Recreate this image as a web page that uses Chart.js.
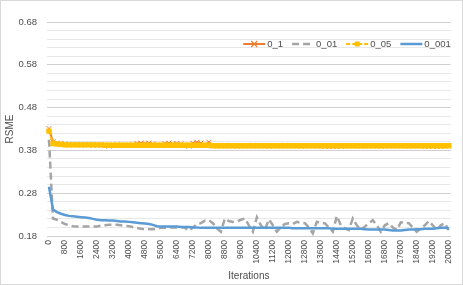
<!DOCTYPE html>
<html>
<head>
<meta charset="utf-8">
<script src="https://cdn.jsdelivr.net/npm/chart.js@4.4.1/dist/chart.umd.min.js"></script>
<style>
  html, body { margin: 0; padding: 0; background: #fff; }
  #wrap { width: 463px; height: 285px; position: relative; }
</style>
</head>
<body>
<div id="wrap"><canvas id="rsmeChart"></canvas></div>
<script>
// iterations (x categories), every 200
const iterations = [
  0, 200, 400, 600, 800, 1000, 1200, 1400, 1600, 1800,
  2000, 2200, 2400, 2600, 2800, 3000, 3200, 3400, 3600, 3800,
  4000, 4200, 4400, 4600, 4800, 5000, 5200, 5400, 5600, 5800,
  6000, 6200, 6400, 6600, 6800, 7000, 7200, 7400, 7600, 7800,
  8000, 8200, 8400, 8600, 8800, 9000, 9200, 9400, 9600, 9800,
  10000, 10200, 10400, 10600, 10800, 11000, 11200, 11400, 11600, 11800,
  12000, 12200, 12400, 12600, 12800, 13000, 13200, 13400, 13600, 13800,
  14000, 14200, 14400, 14600, 14800, 15000, 15200, 15400, 15600, 15800,
  16000, 16200, 16400, 16600, 16800, 17000, 17200, 17400, 17600, 17800,
  18000, 18200, 18400, 18600, 18800, 19000, 19200, 19400, 19600, 19800,
  20000
];

const seriesNames = ['0_1', '0_01', '0_05', '0_001'];

// 0_1
const rsme0_1 = [
  0.431, 0.400, 0.397, 0.396, 0.395, 0.394, 0.394, 0.394, 0.393, 0.394,
  0.393, 0.393, 0.392, 0.393, 0.392, 0.390, 0.392, 0.393, 0.392, 0.392,
  0.392, 0.393, 0.396, 0.397, 0.396, 0.397, 0.395, 0.392, 0.391, 0.396,
  0.397, 0.395, 0.396, 0.395, 0.392, 0.390, 0.397, 0.399, 0.397, 0.392,
  0.399, 0.391, 0.391, 0.391, 0.392, 0.391, 0.391, 0.390, 0.391, 0.391,
  0.391, 0.392, 0.391, 0.391, 0.391, 0.390, 0.391, 0.391, 0.391, 0.392,
  0.391, 0.391, 0.391, 0.390, 0.391, 0.391, 0.391, 0.391, 0.391, 0.390,
  0.389, 0.389, 0.389, 0.390, 0.391, 0.391, 0.391, 0.391, 0.390, 0.391,
  0.391, 0.391, 0.391, 0.390, 0.391, 0.391, 0.391, 0.391, 0.391, 0.391,
  0.390, 0.391, 0.391, 0.391, 0.389, 0.389, 0.390, 0.389, 0.389, 0.391,
  0.391
];

// 0_01
const rsme0_01 = [
  0.405, 0.221, 0.218, 0.213, 0.208, 0.205, 0.203, 0.202, 0.202, 0.202,
  0.202, 0.202, 0.202, 0.204, 0.205, 0.206, 0.206, 0.206, 0.205, 0.204,
  0.203, 0.201, 0.199, 0.197, 0.196, 0.196, 0.196, 0.197, 0.199, 0.199,
  0.200, 0.200, 0.200, 0.201, 0.199, 0.192, 0.200, 0.208, 0.210, 0.216,
  0.217, 0.210, 0.198, 0.190, 0.221, 0.215, 0.213, 0.214, 0.218, 0.221,
  0.205, 0.190, 0.224, 0.205, 0.194, 0.219, 0.205, 0.190, 0.200, 0.208,
  0.210, 0.208, 0.213, 0.211, 0.210, 0.200, 0.186, 0.213, 0.210, 0.210,
  0.200, 0.190, 0.227, 0.205, 0.198, 0.194, 0.221, 0.205, 0.194, 0.202,
  0.210, 0.217, 0.205, 0.190, 0.205, 0.210, 0.200, 0.194, 0.212, 0.211,
  0.210, 0.200, 0.190, 0.198, 0.205, 0.215, 0.205, 0.194, 0.205, 0.210,
  0.194
];

// 0_05
const rsme0_05 = [
  0.425, 0.396, 0.395, 0.394, 0.393, 0.393, 0.393, 0.393, 0.393, 0.393,
  0.393, 0.393, 0.393, 0.393, 0.392, 0.392, 0.392, 0.392, 0.392, 0.392,
  0.392, 0.392, 0.392, 0.392, 0.392, 0.392, 0.392, 0.392, 0.392, 0.392,
  0.392, 0.392, 0.392, 0.392, 0.392, 0.392, 0.392, 0.392, 0.392, 0.392,
  0.392, 0.391, 0.391, 0.391, 0.391, 0.391, 0.391, 0.391, 0.391, 0.391,
  0.391, 0.391, 0.391, 0.391, 0.391, 0.391, 0.391, 0.391, 0.391, 0.391,
  0.391, 0.391, 0.391, 0.391, 0.391, 0.391, 0.391, 0.391, 0.391, 0.391,
  0.391, 0.391, 0.391, 0.391, 0.391, 0.391, 0.391, 0.391, 0.391, 0.391,
  0.391, 0.391, 0.391, 0.391, 0.391, 0.391, 0.391, 0.391, 0.391, 0.391,
  0.391, 0.391, 0.391, 0.391, 0.391, 0.391, 0.391, 0.391, 0.391, 0.391,
  0.391
];

// 0_001
const rsme0_001 = [
  0.295, 0.242, 0.236, 0.232, 0.229, 0.227, 0.226, 0.225, 0.224, 0.223,
  0.222, 0.220, 0.218, 0.217, 0.217, 0.216, 0.216, 0.215, 0.214, 0.214,
  0.213, 0.212, 0.211, 0.210, 0.209, 0.208, 0.206, 0.203, 0.202, 0.202,
  0.202, 0.202, 0.202, 0.201, 0.201, 0.201, 0.200, 0.200, 0.199, 0.199,
  0.199, 0.199, 0.199, 0.199, 0.199, 0.199, 0.199, 0.199, 0.199, 0.199,
  0.199, 0.199, 0.199, 0.199, 0.199, 0.199, 0.199, 0.199, 0.199, 0.199,
  0.199, 0.198, 0.198, 0.198, 0.198, 0.198, 0.198, 0.198, 0.198, 0.198,
  0.198, 0.197, 0.197, 0.197, 0.197, 0.197, 0.197, 0.197, 0.197, 0.196,
  0.195, 0.195, 0.195, 0.195, 0.195, 0.194, 0.193, 0.193, 0.193, 0.194,
  0.195, 0.195, 0.196, 0.196, 0.197, 0.197, 0.197, 0.198, 0.199, 0.199,
  0.198
];

const yMin = 0.18, yMax = 0.68, yStep = 0.02;

const FONT = "'Liberation Sans', Arial, sans-serif";
const TXT = '#4d4d4d';

// frame + white background
const framePlugin = {
  id: 'frame',
  beforeDraw(chart) {
    const c = chart.ctx;
    c.save();
    c.fillStyle = '#fff';
    c.fillRect(0, 0, chart.width, chart.height);
    c.strokeStyle = '#d9d9d9';
    c.lineWidth = 1;
    c.strokeRect(0.5, 0.5, chart.width - 1, chart.height - 1);
    c.restore();
  }
};

// excel style legend inside plot, line + marker
const legendPlugin = {
  id: 'insideLegend',
  afterDraw(chart) {
    const c = chart.ctx;
    const sets = chart.data.datasets;
    const lineW = 22, gap = 2, itemGap = 9, y = 44;
    c.save();
    c.font = '9.5px ' + FONT;
    c.textBaseline = 'middle';
    const widths = sets.map(d => c.measureText(d.label).width);
    let total = 0;
    widths.forEach(w => total += lineW + gap + w);
    total += itemGap * (sets.length - 1);
    let x = chart.chartArea.right - total;
    sets.forEach((d, i) => {
      c.strokeStyle = d.borderColor;
      c.lineWidth = d.borderWidth;
      c.setLineDash(d.borderDash || []);
      c.beginPath();
      c.moveTo(x, y);
      c.lineTo(x + lineW, y);
      c.stroke();
      c.setLineDash([]);
      const cx = x + lineW / 2;
      if (d.pointStyle === 'crossRot') {
        const r = 3;
        c.lineWidth = 1.2;
        c.beginPath();
        c.moveTo(cx - r, y - r); c.lineTo(cx + r, y + r);
        c.moveTo(cx + r, y - r); c.lineTo(cx - r, y + r);
        c.stroke();
      } else if (d.pointStyle === 'rect') {
        c.fillStyle = d.borderColor;
        c.fillRect(cx - 2.5, y - 2.5, 5, 5);
      }
      c.fillStyle = TXT;
      c.fillText(d.label, x + lineW + gap, y);
      x += lineW + gap + widths[i] + itemGap;
    });
    c.restore();
  }
};

const isMajor = v => Math.round(v * 100) % 10 === 8;

const ctx = document.getElementById('rsmeChart').getContext('2d');
const rsmeChart = new Chart(ctx, {
  type: 'line',
  data: {
    labels: iterations,
    datasets: [
      {
        label: seriesNames[0],
        data: rsme0_1,
        borderColor: '#ED7D31',
        borderWidth: 2,
        pointStyle: 'crossRot',
        pointRadius: 3.5,
        pointBorderColor: '#ED7D31',
        pointBorderWidth: 1,
        order: 4
      },
      {
        label: seriesNames[1],
        data: rsme0_01,
        borderColor: '#A5A5A5',
        borderWidth: 2.5,
        borderDash: [7, 4],
        pointRadius: 0,
        order: 3
      },
      {
        label: seriesNames[2],
        data: rsme0_05,
        borderColor: '#FFC000',
        borderWidth: 2,
        borderDash: [4, 2],
        pointStyle: 'rect',
        pointRadius: 3.8,
        pointBackgroundColor: '#FFC000',
        pointBorderColor: '#FFC000',
        pointBorderWidth: 0,
        order: 2
      },
      {
        label: seriesNames[3],
        data: rsme0_001,
        borderColor: '#5B9BD5',
        borderWidth: 2.5,
        pointRadius: 0,
        order: 1
      }
    ]
  },
  options: {
    responsive: true,
    maintainAspectRatio: false,
    animation: false,
    devicePixelRatio: 1,
    layout: { padding: { top: 22, right: 8, left: 0, bottom: 0 } },
    plugins: {
      legend: { display: false },
      tooltip: { enabled: false }
    },
    scales: {
      x: {
        type: 'category',
        offset: true,
        afterFit: s => { s.height = 49; },
        grid: { display: false, drawTicks: false },
        border: { display: true, color: '#d0d0d0' },
        ticks: {
          autoSkip: false,
          minRotation: 90,
          maxRotation: 90,
          padding: 4,
          color: TXT,
          font: { family: FONT, size: 8.5 },
          callback: function (val, i) { return i % 4 === 0 ? String(iterations[i]) : ''; }
        },
        title: {
          display: true,
          text: 'Iterations',
          color: TXT,
          font: { family: FONT, size: 10 },
          padding: { top: 0, bottom: 3 }
        }
      },
      y: {
        min: yMin,
        max: yMax,
        afterFit: s => { s.width = 47; },
        grid: {
          drawTicks: false,
          color: c => isMajor(c.tick.value) ? '#d0d0d0' : '#e8e8e8',
          lineWidth: 1
        },
        border: { display: false },
        ticks: {
          stepSize: yStep,
          autoSkip: false,
          padding: 10,
          color: TXT,
          font: { family: FONT, size: 9.5 },
          callback: v => isMajor(v) ? v.toFixed(2) : ''
        },
        title: {
          display: true,
          text: 'RSME',
          color: TXT,
          font: { family: FONT, size: 10 },
          padding: { top: 4, bottom: 4 }
        }
      }
    }
  },
  plugins: [framePlugin, legendPlugin]
});
</script>
</body>
</html>
